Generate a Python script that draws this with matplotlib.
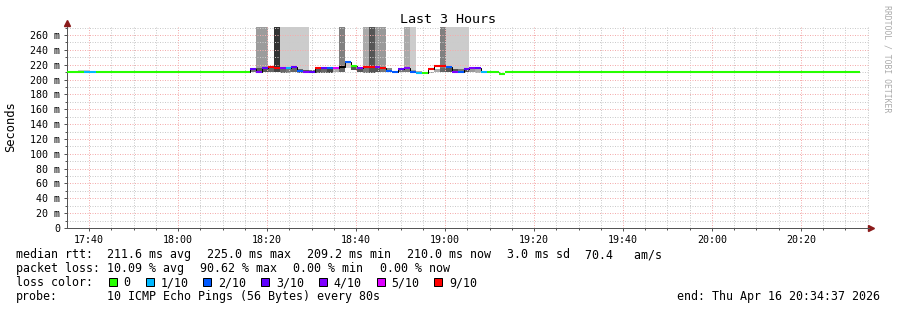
import matplotlib
matplotlib.use('Agg')
import matplotlib.pyplot as plt
from matplotlib.patches import Rectangle

# smokeping style graph, last 3 hours

def tmin(s):
    # "HH:MM:SS" -> minutes after 17:00
    h, m, sec = [int(v) for v in s.split(':')]
    return (h - 17) * 60 + m + sec / 60.0

# busy part, one value per 80 s step
busy_start = "18:16:10"
step_sec = 80
busy_median = [214.7, 210.7, 215.6, 217.0, 216.1, 215.6, 215.6, 217.4, 212.0, 209.8,
               209.8, 215.6, 215.2, 215.2, 215.6, 217.0, 223.7, 217.9, 216.1, 217.4,
               217.4, 216.5, 216.1, 211.6, 209.8, 214.7, 216.1, 210.2, 209.3, 209.3,
               214.3, 217.9, 217.9, 216.5, 210.2, 209.8, 214.7, 216.1, 216.1, 210.7]
busy_loss = [3, 4, 3, 9, 9, 4, 1, 3, 2, 4,
             3, 9, 3, 2, 5, 10, 2, 0, 4, 9,
             9, 4, 9, 2, 2, 3, 4, 2, 1, 0,
             9, 9, 9, 2, 4, 2, 3, 4, 3, 1]
band_lo = [210.0, 209.5, 209.5, 210.0, 209.5, 209.0, 209.0, 209.5, 209.0, 208.5,
           208.5, 209.0, 209.0, 208.5, 209.5, 209.5, 215.0, 213.5, 209.5, 209.0,
           209.0, 209.5, 209.5, 210.5, 208.5, 209.5, 209.5, 209.0, 208.5, 208.0,
           208.5, 209.5, 209.5, 209.5, 208.5, 208.5, 209.5, 209.5, 209.0, 209.5]
band_hi = [214.0, 215.5, 216.0, 216.0, 215.5, 214.5, 214.5, 216.0, 214.0, 213.5,
           213.5, 215.0, 214.5, 214.0, 215.0, 216.0, 222.0, 217.0, 215.5, 216.5,
           216.5, 215.5, 215.5, 216.0, 212.0, 214.0, 215.5, 213.0, 211.5, 209.0,
           210.0, 214.5, 215.5, 215.5, 214.5, 214.0, 214.0, 215.0, 215.0, 211.5]
band_gray = ['#777777', '#555555', '#555555', '#666666', '#444444', '#666666', '#777777', '#666666', '#666666', '#555555',
             '#777777', '#555555', '#666666', '#444444', '#aaaaaa', '#666666', '#cccccc', '#555555', '#555555', '#777777',
             '#555555', '#555555', '#777777', '#888888', '#999999', '#777777', '#777777', '#999999', '#aaaaaa', '#bbbbbb',
             '#999999', '#aaaaaa', '#666666', '#555555', '#555555', '#777777', '#555555', '#999999', '#aaaaaa', '#cccccc']
# pings far above the top of the graph
tall_gray = [None, '#9c9c9c', '#9c9c9c', None, '#333333', '#cccccc', '#cccccc', '#cccccc', '#cccccc', '#cccccc',
             None, None, None, None, None, '#808080', None, None, None, '#aaaaaa',
             '#555555', '#999999', '#999999', None, None, None, '#aaaaaa', '#cccccc', None, None,
             None, None, '#808080', '#cccccc', '#cccccc', '#cccccc', '#cccccc', None, None, None]

# quiet parts
quiet_start = ["17:35:03", "17:38:50", "17:41:30", "19:09:30", "19:12:10", "19:13:30"]
quiet_end = ["17:38:50", "17:41:30", "18:16:10", "19:12:10", "19:13:30", "20:33:15"]
quiet_rtt = [209.9, 209.9, 209.9, 209.9, 207.5, 209.9]
quiet_loss = [0, 1, 0, 0, 0, 0]

# small smoke in the quiet parts
smoke_start = ["17:37:30", "17:58:50"]
smoke_end = ["17:40:10", "18:00:10"]
smoke_lo = [210.5, 210.5]
smoke_hi = [213.0, 212.0]

loss_colors = {0: '#26ff00', 1: '#00b8ff', 2: '#0059ff', 3: '#5e00ff',
               4: '#7e00ff', 5: '#dd00ff', 9: '#ff0000', 10: '#000000'}
legend_loss = [0, 1, 2, 3, 4, 5, 9]
legend_labels = ['0', '1/10', '2/10', '3/10', '4/10', '5/10', '9/10']

W, H = 897, 310
mono = 'DejaVu Sans Mono'
plt.rcParams['font.family'] = mono

fig = plt.figure(figsize=(W / 100, H / 100), dpi=100)
fig.patch.set_facecolor('white')
ax = fig.add_axes([67 / W, (H - 228) / H, (869 - 67) / W, (228 - 27) / H])

step_min = step_sec / 60.0
t0 = tmin(busy_start)
edges = [t0 + k * step_min for k in range(len(busy_median) + 1)]
lefts = edges[:-1]

# smoke
for i in range(len(busy_median)):
    if tall_gray[i] is not None:
        ax.bar(lefts[i], 400 - band_hi[i], width=step_min, bottom=band_hi[i], align='edge',
               color=tall_gray[i], linewidth=0, antialiased=False, zorder=1)
    ax.bar(lefts[i], band_hi[i] - band_lo[i], width=step_min, bottom=band_lo[i], align='edge',
           color=band_gray[i], linewidth=0, antialiased=False, zorder=1)
for s, e, lo, hi in zip(smoke_start, smoke_end, smoke_lo, smoke_hi):
    ax.bar(tmin(s), hi - lo, width=tmin(e) - tmin(s), bottom=lo, align='edge',
           color='#c8c8c8', linewidth=0, antialiased=False, zorder=1)

# thin black step line under the coloured median
stair_vals = [quiet_rtt[2]] + busy_median + [quiet_rtt[3]]
stair_edges = [tmin(quiet_start[2])] + edges + [tmin(quiet_end[3])]
ax.stairs(stair_vals, stair_edges, baseline=None, color='black', linewidth=0.72, zorder=2)

# median coloured by loss
for s, e, v, l in zip(quiet_start, quiet_end, quiet_rtt, quiet_loss):
    ax.hlines(v, tmin(s), tmin(e), colors=loss_colors[l], linewidth=1.5, zorder=3, capstyle='butt')
for i in range(len(busy_median)):
    ax.hlines(busy_median[i], edges[i], edges[i + 1], colors=loss_colors[busy_loss[i]],
              linewidth=1.5, zorder=3, capstyle='butt')

ax.set_xlim(tmin("17:35:03"), tmin("20:35:17"))
ax.set_ylim(0, 270.8)

major_x = [tmin("%d:%02d:00" % (17 + m // 60, m % 60)) for m in range(40, 201, 20)]
major_lbl = ["%d:%02d" % (17 + m // 60, m % 60) for m in range(40, 201, 20)]
minor_x = [tmin("%d:%02d:00" % (17 + m // 60, m % 60)) for m in range(40, 216, 5)]
ax.set_xticks(major_x)
ax.set_xticklabels(major_lbl)
ax.set_xticks(minor_x, minor=True)
ax.set_yticks(range(0, 261, 20))
ax.set_yticklabels(['0'] + ['%d m' % v for v in range(20, 261, 20)])
ax.set_yticks(range(10, 271, 10), minor=True)

ax.tick_params(which='both', direction='out', labelsize=7.2, colors='#555555', labelcolor='black', width=0.72)
ax.tick_params(axis='y', which='major', length=2.2, pad=2.8)
ax.tick_params(axis='y', which='minor', length=1.5)
ax.tick_params(axis='x', which='major', length=2.2, pad=2.5)
ax.tick_params(axis='x', which='minor', length=1.5)

ax.set_axisbelow('line')
ax.grid(which='major', color='#f4acac', linewidth=0.72, linestyle=(0, (1, 1.5)))
ax.grid(which='minor', color='#cbcbcb', linewidth=0.72, linestyle=(0, (1, 1.5)))

for side in ['top', 'right']:
    ax.spines[side].set_visible(False)
for side in ['left', 'bottom']:
    ax.spines[side].set_color('#555555')
    ax.spines[side].set_linewidth(0.72)

ax.plot([0], [1.02], marker='^', markersize=4.5, color='#8b1a1a', transform=ax.transAxes, clip_on=False)
ax.plot([1.003], [0], marker='>', markersize=4.5, color='#8b1a1a', transform=ax.transAxes, clip_on=False)


def ftext(x, y, s, **kw):
    kw.setdefault('va', 'baseline')
    kw.setdefault('size', 8.4)
    fig.text(x / W, 1 - y / H, s, family=mono, **kw)


ftext(448, 23, 'Last 3 Hours', ha='center', size=9.6)
ftext(11, 127, 'Seconds', ha='center', va='center', rotation=90, size=8.7)
ftext(887, 59, 'RRDTOOL / TOBI OETIKER', ha='center', va='center', rotation=270, size=5.9, color='#aaaaaa')

ftext(16, 258, 'median rtt:')
for x, s in zip([107, 207, 307, 407, 507, 585],
                ['211.6 ms avg', '225.0 ms max', '209.2 ms min', '210.0 ms now', '3.0 ms sd', '70.4   am/s']):
    ftext(x, 258, s)

ftext(16, 272, 'packet loss:')
for x, s in zip([107, 200, 293, 380], ['10.09 % avg', '90.62 % max', '0.00 % min', '0.00 % now']):
    ftext(x, 272, s)

ftext(16, 286, 'loss color:')
box_x = [108.5, 145.5, 203, 261, 318.5, 376.5, 434]
for x, l, lab in zip(box_x, legend_loss, legend_labels):
    fig.add_artist(Rectangle((x / W, 1 - 286 / H), 8 / W, 8 / H, transform=fig.transFigure,
                             facecolor=loss_colors[l], edgecolor='black', linewidth=0.72))
    ftext(x + 15, 286, lab)

ftext(16, 300, 'probe:')
ftext(107, 300, '10 ICMP Echo Pings (56 Bytes) every 80s')
ftext(880, 300, 'end: Thu Apr 16 20:34:37 2026', ha='right')

fig.savefig('out.png', dpi=100)
